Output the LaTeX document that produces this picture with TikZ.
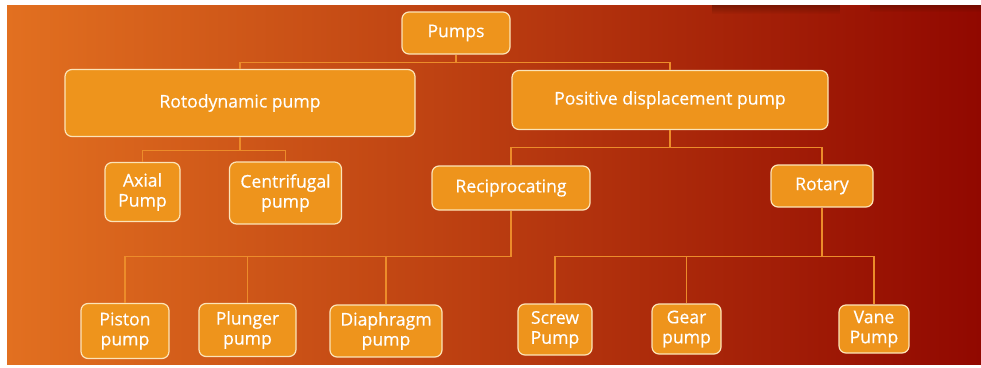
\documentclass[tikz,border=0pt]{standalone}
\usepackage{fontspec}
\setmainfont{Open Sans}
\newfontfamily\boxfont{Open Sans}[FakeBold=0.5]
\usetikzlibrary{positioning,fadings}
\definecolor{boxfill}{RGB}{238,148,28}
\definecolor{boxline}{RGB}{252,228,184}
\definecolor{linkcol}{RGB}{236,140,42}
\definecolor{bgleft}{RGB}{226,112,32}
\definecolor{bgmid}{RGB}{200,62,12}
\definecolor{bgright}{RGB}{145,8,0}
\definecolor{shadowcol}{RGB}{80,15,0}

\begin{document}
\begin{tikzpicture}[
  x=1pt, y=-1pt,
  box/.style={draw=boxline, fill=boxfill, line width=1.2pt, rounded corners=7pt,
    text=white, align=center, inner sep=0pt, font=\boxfont\fontsize{17.6}{20}\selectfont},
  link/.style={draw=linkcol, line width=1.1pt}
]
\useasboundingbox[fill=white] (0,0) rectangle (981,367);
\shade[left color=bgleft, middle color=bgmid, right color=bgright] (7,5) rectangle (981,364);
% shadow along the top edge
\fill[shadowcol, path fading=south, opacity=0.5] (712,5) rectangle (840,14);
\fill[shadowcol, path fading=south, opacity=0.45] (870,5) rectangle (981,12);

% top levels
\node[box, minimum width=108pt, minimum height=42pt] (pumps) at (456,33) {Pumps};
\node[box, minimum width=350pt, minimum height=67pt] (roto) at (240,103) {Rotodynamic pump};
\node[box, minimum width=316pt, minimum height=59pt] (posdisp) at (670,100) {Positive displacement pump};

\node[box, minimum width=75pt, minimum height=59pt] (axial) at (142.5,192) {Axial\\Pump};
\node[box, minimum width=112pt, minimum height=62pt] (centri) at (285.5,193) {Centrifugal\\pump};
\node[box, minimum width=158pt, minimum height=44pt] (recip) at (511,188) {Reciprocating};
\node[box, minimum width=102pt, minimum height=42pt] (rotary) at (822,186) {Rotary};

% bottom row
\node[box, minimum width=88pt, minimum height=55pt] (piston) at (125,331) {Piston\\pump};
\node[box, minimum width=97pt, minimum height=53pt] (plunger) at (247.5,330) {Plunger\\pump};
\node[box, minimum width=112pt, minimum height=52pt] (diaph) at (386,331) {Diaphragm\\pump};
\node[box, minimum width=74pt, minimum height=51pt] (screw) at (555,329.5) {Screw\\Pump};
\node[box, minimum width=69pt, minimum height=50pt] (gear) at (686.5,329) {Gear\\pump};
\node[box, minimum width=70pt, minimum height=48pt] (vane) at (874,329) {Vane\\Pump};

% connectors
\draw[link] (pumps.south) -- ++(0,8) coordinate (j0);
\draw[link] (roto.north) |- (j0) -| (posdisp.north);

\draw[link] (roto.south) -- ++(0,13.5) coordinate (j1);
\draw[link] (axial.north) |- (j1) -| (centri.north);

\draw[link] (posdisp.south) -- ++(0,17.5) coordinate (j2);
\draw[link] (recip.north) |- (j2) -| (rotary.north);

\draw[link] (recip.south) -- ++(0,46) coordinate (j3);
\draw[link] (piston.north) |- (j3);
\draw[link] (plunger.north) -- (plunger.north |- j3);
\draw[link] (diaph.north) -- (diaph.north |- j3);

\draw[link] (rotary.south) -- ++(0,49) coordinate (j4);
\draw[link] (screw.north) |- (j4) -| (vane.north);
\draw[link] (gear.north) -- (gear.north |- j4);
\end{tikzpicture}
\end{document}
